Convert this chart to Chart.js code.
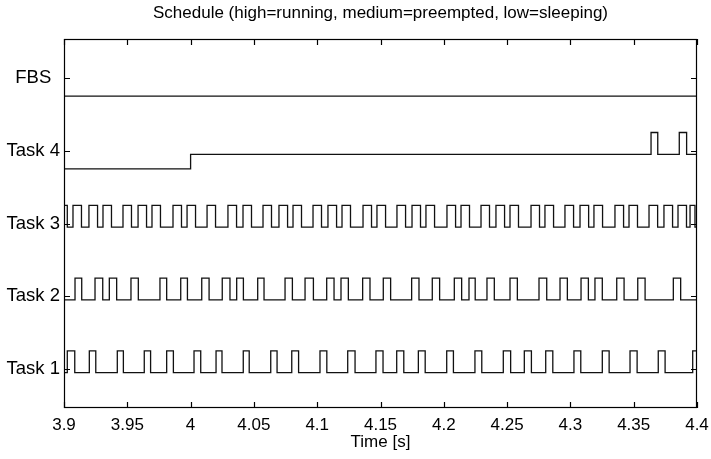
<!DOCTYPE html>
<html>
<head>
<meta charset="utf-8">
<script src="https://cdn.jsdelivr.net/npm/chart.js@4"></script>
<style>
  html, body { margin: 0; padding: 0; background: #fff; }
  #wrap { width: 711px; height: 459px; }
</style>
</head>
<body>
<div id="wrap"><canvas id="myChart" width="711" height="459"></canvas></div>
<script>
const rowLabels = ["Task 1", "Task 2", "Task 3", "Task 4", "FBS"];
const xTicks = [3.9, 3.95, 4, 4.05, 4.1, 4.15, 4.2, 4.25, 4.3, 4.35, 4.4];

// level of each state relative to the row's tick
const stateLevel = { high: 0.25, medium: -0.05, low: -0.25 };

// running intervals (start / end, seconds), otherwise preempted
const task1Start = [3.9026, 3.9200, 3.9421, 3.9634, 3.9811, 4.0027, 4.0201, 4.0416, 4.0633,
  4.0799, 4.1022, 4.1241, 4.1464, 4.1628, 4.1799, 4.2023, 4.2246, 4.2470, 4.2636, 4.2805,
  4.3028, 4.3252, 4.3471, 4.3694, 4.3966];
const task1End = [3.9085, 3.9251, 3.9469, 3.9684, 3.9864, 4.0080, 4.0248, 4.0463, 4.0683,
  4.0853, 4.1076, 4.1299, 4.1520, 4.1684, 4.1853, 4.2076, 4.2300, 4.2528, 4.2692, 4.2861,
  4.3082, 4.3306, 4.3527, 4.3748, 4.4];

const task2Start = [3.9087, 3.9245, 3.9358, 3.9529, 3.9758, 3.9922, 4.0088, 4.0250, 4.0364,
  4.0530, 4.0746, 4.0904, 4.1075, 4.1188, 4.1359, 4.1522, 4.1746, 4.1909, 4.2083, 4.2199,
  4.2341, 4.2523, 4.2752, 4.2918, 4.3084, 4.3194, 4.3366, 4.3532, 4.3813];
const task2End = [3.9140, 3.9306, 3.9416, 3.9587, 3.9811, 3.9975, 4.0146, 4.0311, 4.0417,
  4.0580, 4.0804, 4.0970, 4.1133, 4.1246, 4.1417, 4.1580, 4.1804, 4.1967, 4.2141, 4.2248,
  4.2399, 4.2581, 4.2813, 4.2976, 4.3142, 4.3252, 4.3424, 4.3590, 4.3871];

const task3Start = [3.9, 3.9071, 3.9197, 3.9308, 3.9466, 3.9585, 3.9695, 3.9861, 3.9972,
  4.0130, 4.0295, 4.0414, 4.0572, 4.0698, 4.0809, 4.0967, 4.1085, 4.1196, 4.1362, 4.1472,
  4.1630, 4.1749, 4.1859, 4.2025, 4.2136, 4.2294, 4.2412, 4.2523, 4.2689, 4.2799, 4.2957,
  4.3076, 4.3186, 4.3352, 4.3463, 4.3621, 4.3739, 4.3850, 4.3945];
const task3End = [3.9026, 3.9138, 3.9265, 3.9375, 3.9533, 3.9652, 3.9762, 3.9928, 4.0039,
  4.0197, 4.0363, 4.0481, 4.0639, 4.0766, 4.0876, 4.1034, 4.1153, 4.1263, 4.1429, 4.1540,
  4.1698, 4.1816, 4.1927, 4.2093, 4.2203, 4.2361, 4.2480, 4.2590, 4.2756, 4.2867, 4.3025,
  4.3144, 4.3254, 4.3420, 4.3530, 4.3689, 4.3807, 4.3917, 4.3984];

// state changes for Task 4 and FBS
const task4Times = [3.9, 4.0, 4.3637, 4.3690, 4.3860, 4.3918, 4.4];
const task4States = ["low", "medium", "high", "medium", "high", "medium", "medium"];
const fbsTimes = [3.9, 4.4];
const fbsStates = ["low", "low"];

function fromRuns(row, starts, ends) {
  const pts = [];
  if (starts[0] > 3.9) pts.push({ x: 3.9, y: row + stateLevel.medium });
  for (let i = 0; i < starts.length; i++) {
    pts.push({ x: starts[i], y: row + stateLevel.high });
    pts.push({ x: ends[i], y: row + (ends[i] >= 4.4 ? stateLevel.high : stateLevel.medium) });
  }
  const last = pts[pts.length - 1];
  if (last.x < 4.4) pts.push({ x: 4.4, y: last.y });
  return pts;
}

function fromStates(row, times, states) {
  return times.map((t, i) => ({ x: t, y: row + stateLevel[states[i]] }));
}

const series = [
  fromRuns(1, task1Start, task1End),
  fromRuns(2, task2Start, task2End),
  fromRuns(3, task3Start, task3End),
  fromStates(4, task4Times, task4States),
  fromStates(5, fbsTimes, fbsStates),
];

const family = "'Liberation Sans', Arial, sans-serif";
const font = { family: family, size: 17 };

const frame = {
  id: "frame",
  afterDraw(chart) {
    const { ctx, chartArea: a, scales } = chart;
    ctx.save();
    ctx.strokeStyle = "#000";
    ctx.lineWidth = 1.2;
    ctx.strokeRect(a.left + 0.5, a.top + 0.5, a.right - a.left - 1, a.bottom - a.top - 1);
    ctx.beginPath();
    xTicks.forEach((v) => {
      const px = Math.round(scales.x.getPixelForValue(v)) + 0.5;
      ctx.moveTo(px, a.bottom); ctx.lineTo(px, a.bottom - 6);
      ctx.moveTo(px, a.top); ctx.lineTo(px, a.top + 6);
    });
    rowLabels.forEach((_, i) => {
      const py = Math.round(scales.y.getPixelForValue(i + 1)) + 0.5;
      ctx.moveTo(a.left, py); ctx.lineTo(a.left + 6, py);
      ctx.moveTo(a.right, py); ctx.lineTo(a.right - 6, py);
    });
    ctx.stroke();
    ctx.restore();
  },
};

const ctx = document.getElementById("myChart").getContext("2d");

const config = {
  type: "line",
  data: {
    datasets: series.map((pts, i) => ({
      label: rowLabels[i],
      data: pts,
      stepped: true,
      borderColor: "#111",
      borderWidth: 1.3,
      pointRadius: 0,
      fill: false,
    })),
  },
  options: {
    responsive: false,
    animation: false,
    layout: { padding: { left: 0, right: 14, top: 0, bottom: 0 } },
    plugins: {
      legend: { display: false },
      tooltip: { enabled: false },
      title: {
        display: true,
        fullSize: false,
        text: "Schedule (high=running, medium=preempted, low=sleeping)",
        color: "#000",
        font: { ...font, weight: "normal", lineHeight: 1.2 },
        padding: { top: 3, bottom: 15.6 },
      },
    },
    scales: {
      x: {
        type: "linear",
        min: 3.9,
        max: 4.4,
        grid: { display: false, drawTicks: false },
        border: { display: false },
        afterBuildTicks: (s) => { s.ticks = xTicks.map((v) => ({ value: v })); },
        afterFit: (s) => { s.height = 51; s.paddingLeft = 0; s.paddingRight = 0; },
        ticks: {
          color: "#000",
          font: font,
          padding: 7,
          maxRotation: 0,
          autoSkip: false,
          callback: (v) => String(Number(v.toFixed(2))),
        },
        title: {
          display: true,
          text: "Time [s]",
          color: "#000",
          font: font,
          padding: { top: 0, bottom: 6 },
        },
      },
      y: {
        type: "linear",
        min: 0.465,
        max: 5.535,
        grid: { display: false, drawTicks: false },
        border: { display: false },
        afterBuildTicks: (s) => { s.ticks = rowLabels.map((_, i) => ({ value: i + 1 })); },
        afterFit: (s) => { s.width = 64; s.paddingTop = 0; s.paddingBottom = 0; },
        ticks: {
          color: "#000",
          font: { family: family, size: 18.5 },
          padding: 4,
          crossAlign: "center",
          callback: (v) => rowLabels[v - 1],
        },
      },
    },
  },
  plugins: [frame],
};

const scheduleChart = new Chart(ctx, config);
</script>
</body>
</html>
